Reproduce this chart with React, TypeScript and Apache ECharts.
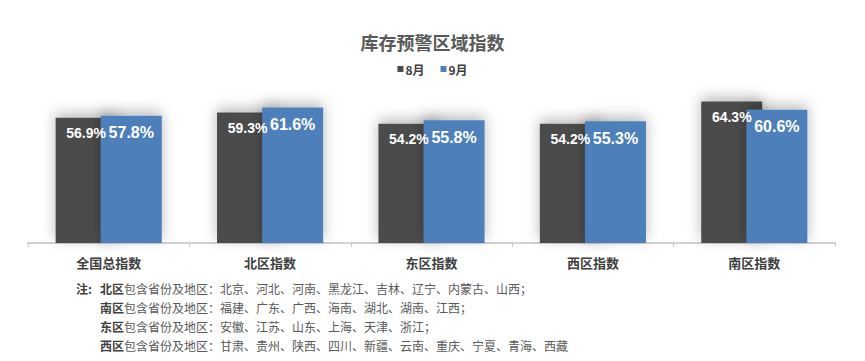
import React, { useEffect, useRef } from "react";
import * as echarts from "echarts";

const categories = ["全国总指数", "北区指数", "东区指数", "西区指数", "南区指数"];
const seriesNames = ["8月", "9月"];
const aug = [56.9, 59.3, 54.2, 54.2, 64.3];
const sep = [57.8, 61.6, 55.8, 55.3, 60.6];
const noteRegions = ["北区", "南区", "东区", "西区"];
const noteLists = [
  "北京、河北、河南、黑龙江、吉林、辽宁、内蒙古、山西；",
  "福建、广东、广西、海南、湖北、湖南、江西；",
  "安徽、江苏、山东、上海、天津、浙江；",
  "甘肃、贵州、陕西、四川、新疆、云南、重庆、宁夏、青海、西藏",
];

const CJK = "'Noto Sans CJK SC', 'Microsoft YaHei', sans-serif";
const NUM = "'Liberation Sans', Arial, sans-serif";

export default function App() {
  const ref = useRef<HTMLDivElement>(null);
  useEffect(() => {
    if (!ref.current) return;
    const chart = echarts.init(ref.current, null, { renderer: "svg" });
    const noteGraphics: any[] = [];
    noteGraphics.push({
      type: "text",
      left: 76,
      top: 282,
      style: { text: "注:", font: `bold 12px ${CJK}`, fill: "#404040" },
    });
    noteRegions.forEach((r, i) => {
      noteGraphics.push({
        type: "text",
        left: 100,
        top: 282 + i * 19,
        style: {
          text: `{b|${r}}{n|包含省份及地区：${noteLists[i]}}`,
          rich: {
            b: { font: `bold 12px ${CJK}`, fill: "#404040" },
            n: { font: `12px ${CJK}`, fill: "#595959" },
          },
        },
      });
    });
    const shadow = {
      shadowBlur: 14,
      shadowColor: "rgba(0,0,0,0.28)",
      shadowOffsetY: -4,
    };
    chart.setOption({
      animation: false,
      backgroundColor: "#ffffff",
      title: {
        text: "库存预警区域指数",
        left: "center",
        top: 28,
        textStyle: { fontFamily: CJK, fontSize: 18, fontWeight: "bold", color: "#595959" },
      },
      legend: {
        data: seriesNames,
        top: 58,
        left: "center",
        icon: "rect",
        itemWidth: 6,
        itemHeight: 6,
        itemGap: 16,
        textStyle: { fontFamily: CJK, fontSize: 12, fontWeight: "bold", color: "#404040", padding: [0, 0, 0, -3] },
      },
      grid: { left: 28, right: 30, top: 23, bottom: 118 },
      xAxis: {
        type: "category",
        data: categories,
        axisLine: { lineStyle: { color: "#d0d0d0", width: 2 } },
        axisTick: { show: true, length: 4, lineStyle: { color: "#c8c8c8" } },
        axisLabel: { margin: 13, fontFamily: CJK, fontSize: 13, fontWeight: "bold", color: "#404040" },
      },
      yAxis: { type: "value", min: 0, max: 100, show: false, splitLine: { show: false } },
      graphic: noteGraphics,
      series: [
        {
          name: seriesNames[0],
          type: "bar",
          data: aug,
          barWidth: 61,
          barGap: "-26%",
          itemStyle: { color: "#4b4b4b", ...shadow },
          label: {
            show: true,
            position: "insideTop",
            distance: 8,
            formatter: (p: any) => p.value.toFixed(1) + "%",
            fontFamily: NUM,
            fontWeight: "bold",
            fontSize: 14,
            color: "#ffffff",
          },
        },
        {
          name: seriesNames[1],
          type: "bar",
          data: sep,
          barWidth: 61,
          barGap: "-26%",
          itemStyle: { color: "#4e7fbb", ...shadow },
          label: {
            show: true,
            position: "insideTop",
            distance: 9,
            formatter: (p: any) => p.value.toFixed(1) + "%",
            fontFamily: NUM,
            fontWeight: "bold",
            fontSize: 16,
            color: "#ffffff",
          },
        },
      ],
    });
    return () => chart.dispose();
  }, []);
  return (
    <div
      ref={ref}
      style={{ position: "fixed", left: 0, top: 0, width: 865, height: 361 }}
    />
  );
}
